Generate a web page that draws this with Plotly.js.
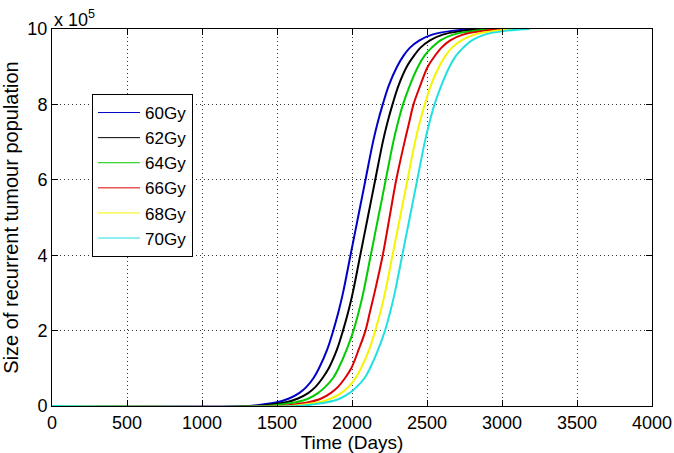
<!DOCTYPE html>
<html>
<head>
<meta charset="utf-8">
<script src="https://cdn.plot.ly/plotly-3.0.1.min.js"></script>
<style>html,body{margin:0;padding:0;background:#fff;}#chart{width:674px;height:453px;}</style>
</head>
<body>
<div id="chart"></div>
<script>
// Population values in units of 10^5 (axis shows "x 10^5")
const seriesNames = ["60Gy", "62Gy", "64Gy", "66Gy", "68Gy", "70Gy"];
const seriesColors = ["#0000c8", "#000000", "#00cc00", "#dd0000", "#f5f500", "#22e0e0"];

// population levels (x 10^5) at which the day values below were read
const levels = [0, 0, 0.05, 0.1, 0.2, 0.35, 0.5, 0.75, 1, 1.5, 2, 2.5, 3, 4, 5, 6, 7, 7.5, 8, 8.5, 9, 9.3, 9.5, 9.7, 9.85, 9.95, 10];

const days60 = [0, 1310, 1415, 1500, 1580, 1650, 1695, 1745, 1780, 1835, 1875, 1910, 1940, 1990, 2040, 2090, 2140, 2170, 2205, 2245, 2300, 2345, 2385, 2450, 2535, 2665, 2840];
const days62 = [0, 1365, 1475, 1560, 1640, 1710, 1755, 1805, 1845, 1900, 1940, 1975, 2005, 2055, 2105, 2155, 2205, 2235, 2270, 2310, 2365, 2415, 2455, 2520, 2605, 2735, 2905];
const days64 = [0, 1430, 1540, 1625, 1710, 1775, 1820, 1875, 1910, 1965, 2010, 2045, 2075, 2125, 2175, 2225, 2275, 2305, 2340, 2385, 2440, 2485, 2530, 2590, 2675, 2810, 2975];
const days66 = [0, 1525, 1630, 1710, 1795, 1860, 1905, 1955, 1995, 2045, 2090, 2120, 2150, 2205, 2250, 2295, 2350, 2380, 2410, 2455, 2505, 2555, 2595, 2655, 2740, 2870, 3040];
const days68 = [0, 1590, 1695, 1780, 1860, 1930, 1975, 2025, 2060, 2115, 2155, 2190, 2220, 2270, 2320, 2370, 2420, 2450, 2485, 2525, 2580, 2625, 2665, 2730, 2815, 2945, 3110];
const days70 = [0, 1640, 1750, 1835, 1920, 1985, 2030, 2085, 2120, 2175, 2220, 2255, 2285, 2335, 2385, 2435, 2485, 2515, 2550, 2595, 2650, 2695, 2740, 2800, 2885, 3020, 3185];

const allDays = [days60, days62, days64, days66, days68, days70];

const xTickVals = [0, 500, 1000, 1500, 2000, 2500, 3000, 3500, 4000];
const yTickVals = [0, 2, 4, 6, 8, 10];

const traces = [];
allDays.forEach((d, i) => {
  traces.push({
    x: d, y: levels, type: 'scatter', mode: 'lines',
    line: {color: seriesColors[i], width: 2, shape: 'spline', smoothing: 1},
    showlegend: false, hoverinfo: 'skip'
  });
});
allDays.forEach((d, i) => {
  traces.push({
    x: [null], y: [null], type: 'scatter', mode: 'lines', name: seriesNames[i],
    line: {color: seriesColors[i], width: 1}
  });
});

const fontFam = '"Liberation Sans", Arial, sans-serif';

const layout = {
  width: 674, height: 453,
  margin: {l: 52, r: 22, t: 29, b: 47},
  paper_bgcolor: '#fff', plot_bgcolor: '#fff',
  font: {family: fontFam, size: 18, color: '#000'},
  showlegend: true,
  legend: {
    x: 0.0667, y: 0.8276, xanchor: 'left', yanchor: 'top',
    bgcolor: '#fff', bordercolor: '#000', borderwidth: 1,
    font: {family: fontFam, size: 17, color: '#000'},
    itemwidth: 42
  },
  xaxis: {
    range: [0, 4000], tickvals: xTickVals, ticks: 'inside', ticklen: 6,
    tickcolor: '#000', showline: true, linecolor: '#000', linewidth: 1, mirror: 'ticks',
    showgrid: true, gridcolor: '#333', griddash: '1px,3px', gridwidth: 1, zeroline: false,
    tickfont: {family: fontFam, size: 18},
    title: {text: 'Time (Days)', font: {family: fontFam, size: 19}, standoff: 2}
  },
  yaxis: {
    range: [0, 10], tickvals: yTickVals, ticks: 'inside', ticklen: 6,
    tickcolor: '#000', showline: true, linecolor: '#000', linewidth: 1, mirror: 'ticks',
    showgrid: true, gridcolor: '#333', griddash: '1px,3px', gridwidth: 1, zeroline: false,
    tickfont: {family: fontFam, size: 18},
    title: {text: 'Size of recurrent tumour population', font: {family: fontFam, size: 20}, standoff: 3}
  },
  annotations: [{
    xref: 'paper', yref: 'paper', x: 0, y: 1, xanchor: 'left', yanchor: 'bottom',
    text: 'x 10<sup>5</sup>', showarrow: false, font: {family: fontFam, size: 18}, yshift: -3
  }]
};

Plotly.newPlot('chart', traces, layout, {displayModeBar: false, staticPlot: true});
</script>
</body>
</html>
